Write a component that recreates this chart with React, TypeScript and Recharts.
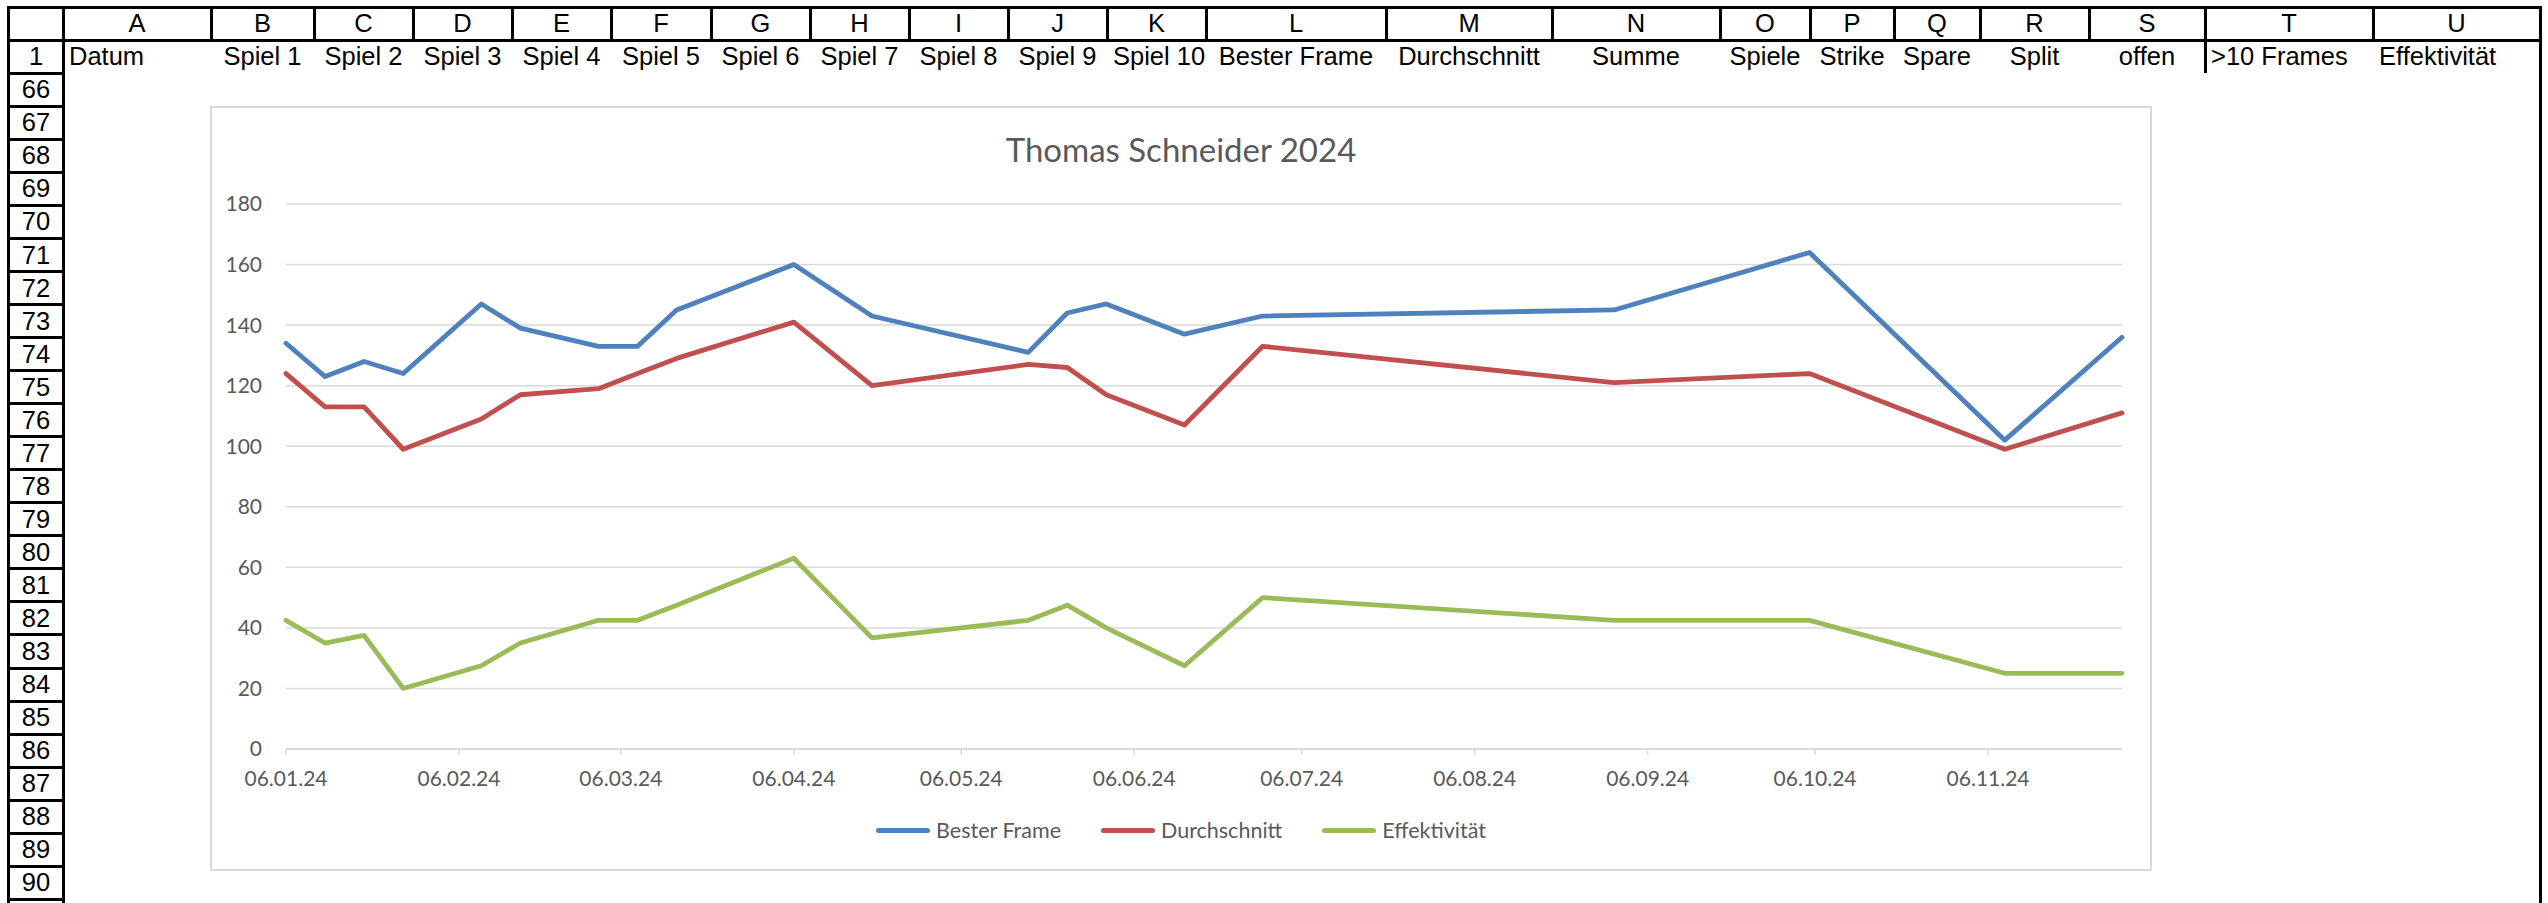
import React from 'react';
import { LineChart, Line, XAxis, YAxis, CartesianGrid, Legend } from 'recharts';

// Spieltage 2024 (Samstage)
const dates = [
  '2024-01-06', '2024-01-13', '2024-01-20', '2024-01-27', '2024-02-10',
  '2024-02-17', '2024-03-02', '2024-03-09', '2024-03-16', '2024-04-06',
  '2024-04-20', '2024-05-18', '2024-05-25', '2024-06-01', '2024-06-15',
  '2024-06-29', '2024-08-31', '2024-10-05', '2024-11-09', '2024-11-30',
];
const besterFrame = [134, 123, 128, 124, 147, 139, 133, 133, 145, 160, 143, 131, 144, 147, 137, 143, 145, 164, 102, 136];
const durchschnitt = [124, 113, 113, 99, 109, 117, 119, 124, 129, 141, 120, 127, 126, 117, 107, 133, 121, 124, 99, 111];
const effektivitaet = [42.5, 35, 37.5, 20, 27.5, 35, 42.5, 42.5, 47.5, 63, 36.7, 42.5, 47.5, 40, 27.5, 50, 42.5, 42.5, 25, 25];

const xTickLabels = [
  '06.01.24', '06.02.24', '06.03.24', '06.04.24', '06.05.24', '06.06.24',
  '06.07.24', '06.08.24', '06.09.24', '06.10.24', '06.11.24',
];
const yTicks = [0, 20, 40, 60, 80, 100, 120, 140, 160, 180];

// Tabellenrahmen
const columnLetters = ['A', 'B', 'C', 'D', 'E', 'F', 'G', 'H', 'I', 'J', 'K', 'L', 'M', 'N', 'O', 'P', 'Q', 'R', 'S', 'T', 'U'];
const headerTexts = [
  'Datum', 'Spiel 1', 'Spiel 2', 'Spiel 3', 'Spiel 4', 'Spiel 5', 'Spiel 6', 'Spiel 7', 'Spiel 8', 'Spiel 9', 'Spiel 10',
  'Bester Frame', 'Durchschnitt', 'Summe', 'Spiele', 'Strike', 'Spare', 'Split', 'offen', '>10 Frames', 'Effektivität',
];
const headerAlign = ['left', 'center', 'center', 'center', 'center', 'center', 'center', 'center', 'center', 'center', 'center',
  'center', 'center', 'center', 'center', 'center', 'center', 'center', 'center', 'left', 'left'];
const rowNumbers = [1, 66, 67, 68, 69, 70, 71, 72, 73, 74, 75, 76, 77, 78, 79, 80, 81, 82, 83, 84, 85, 86, 87, 88, 89, 90];
const colEdges = [63, 211, 314, 413, 512, 611, 711, 810, 909, 1008, 1107, 1206, 1386, 1552, 1720, 1810, 1894, 1980, 2089, 2205, 2373, 2540];

const toTime = (iso: string) => Date.parse(iso + 'T00:00:00Z');
const labelToTime = (s: string) => {
  const [d, m, y] = s.split('.').map(Number);
  return Date.UTC(2000 + y, m - 1, d);
};
const formatDate = (t: number) => {
  const d = new Date(t);
  const p = (n: number) => String(n).padStart(2, '0');
  return `${p(d.getUTCDate())}.${p(d.getUTCMonth() + 1)}.${String(d.getUTCFullYear()).slice(2)}`;
};

const data = dates.map((d, i) => ({
  t: toTime(d),
  bester: besterFrame[i],
  durch: durchschnitt[i],
  eff: effektivitaet[i],
}));
const xTicks = xTickLabels.map(labelToTime);

const FONT = 'Lato, "Open Sans", sans-serif';
const SHEET_FONT = '"Liberation Sans", Arial, sans-serif';
const axisText = { fontFamily: FONT, fontSize: 21, fill: '#595959' };

const ROW_H = 33.04;
const rowTop = (i: number) => (i === 0 ? 40 : 73.3 + (i - 1) * ROW_H);
const rowHeight = (i: number) => (i === 0 ? 33.3 : ROW_H);

function Line2({ x, y, w, h }: { x: number; y: number; w: number; h: number }) {
  return <div style={{ position: 'absolute', left: x, top: y, width: w, height: h, background: '#000' }} />;
}

function LegendContent(props: any) {
  const items = props.payload || [];
  return (
    <div style={{ display: 'flex', justifyContent: 'center', alignItems: 'center', height: 30 }}>
      {items.map((it: any, i: number) => (
        <div key={i} style={{ display: 'flex', alignItems: 'center', marginLeft: i === 0 ? 0 : 40 }}>
          <div style={{ width: 54, height: 5, borderRadius: 3, background: it.color, marginRight: 6 }} />
          <span style={{ fontFamily: FONT, fontSize: 21.5, color: '#595959' }}>{it.value}</span>
        </div>
      ))}
    </div>
  );
}

function Sheet() {
  const bottom = 903;
  const parts: React.ReactNode[] = [];
  // Außenrahmen
  parts.push(<Line2 key="top" x={7} y={6} w={2534} h={2.5} />);
  parts.push(<Line2 key="left" x={7} y={6} w={3} h={bottom - 6} />);
  parts.push(<Line2 key="right" x={2539} y={6} w={2.5} h={bottom - 6} />);
  parts.push(<Line2 key="hdrb" x={7} y={38.5} w={2534} h={3} />);
  parts.push(<Line2 key="rhr" x={61.5} y={6} w={3} h={bottom - 6} />);
  // Spaltenköpfe
  colEdges.slice(1, -1).forEach((x, i) => parts.push(<Line2 key={'cv' + i} x={x - 1.5} y={6} w={3} h={34} />));
  columnLetters.forEach((l, i) => {
    const x0 = colEdges[i];
    const x1 = colEdges[i + 1];
    parts.push(
      <div key={'cl' + l} style={{ position: 'absolute', left: x0, top: 7, width: x1 - x0, height: 33, lineHeight: '33px', textAlign: 'center', fontFamily: SHEET_FONT, fontSize: 25.5 }}>
        {l}
      </div>,
    );
  });
  // Zeilenköpfe
  rowNumbers.forEach((n, i) => {
    const y = rowTop(i);
    parts.push(<Line2 key={'rh' + i} x={7} y={y + rowHeight(i) - 1.5} w={57} h={3} />);
    parts.push(
      <div key={'rn' + n} style={{ position: 'absolute', left: 9, top: y, width: 54, height: rowHeight(i), lineHeight: rowHeight(i) + 'px', textAlign: 'center', fontFamily: SHEET_FONT, fontSize: 25.5 }}>
        {n}
      </div>,
    );
  });
  // Zeile 1
  headerTexts.forEach((t, i) => {
    const x0 = colEdges[i];
    const x1 = colEdges[i + 1];
    parts.push(
      <div key={'h' + i} style={{ position: 'absolute', left: x0 + 6, top: 40, width: x1 - x0 - 12, height: 33, lineHeight: '33px', textAlign: headerAlign[i] as any, fontFamily: SHEET_FONT, fontSize: 25.5, whiteSpace: 'nowrap' }}>
        {t}
      </div>,
    );
  });
  parts.push(<Line2 key="st" x={2204} y={40} w={3} h={33} />);
  return <>{parts}</>;
}

export default function App() {
  const W = 1942;
  const H = 765;
  return (
    <div style={{ position: 'absolute', left: 0, top: 0, width: 2548, height: 903, background: '#fff', overflow: 'hidden' }}>
      <Sheet />
      <div style={{ position: 'absolute', left: 210, top: 106, width: W, height: H, background: '#fff' }}>
        <div style={{ position: 'absolute', left: 0, top: 0, width: W, height: H, boxSizing: 'border-box', border: '2px solid #d9d9d9' }} />
        <div style={{ position: 'absolute', left: 0, top: 23, width: W, height: 40, lineHeight: '40px', textAlign: 'center', fontFamily: FONT, fontSize: 33, color: '#595959' }}>
          Thomas Schneider 2024
        </div>
        <div style={{ position: 'absolute', left: 0, top: 0 }}>
          <LineChart width={W} height={H} data={data} margin={{ top: 98, right: 30, bottom: 0, left: 16 }}>
            <CartesianGrid vertical={false} stroke="#d9d9d9" strokeWidth={1.5} />
            <XAxis
              dataKey="t"
              type="number"
              domain={[data[0].t, data[data.length - 1].t]}
              ticks={xTicks}
              interval={0}
              tickFormatter={formatDate}
              height={122}
              tick={axisText}
              tickSize={6}
              tickMargin={16}
              axisLine={{ stroke: '#d9d9d9', strokeWidth: 1.5 }}
              tickLine={{ stroke: '#d9d9d9', strokeWidth: 1.5 }}
            />
            <YAxis
              domain={[0, 180]}
              ticks={yTicks}
              interval={0}
              width={60}
              axisLine={false}
              tickLine={false}
              tickSize={0}
              tickMargin={24}
              tick={axisText}
            />
            <Legend
              layout="horizontal"
              verticalAlign="middle"
              align="center"
              content={<LegendContent />}
              wrapperStyle={{ top: 709, left: 0, width: W, height: 30 }}
            />
            <Line name="Bester Frame" dataKey="bester" stroke="#4F81BD" strokeWidth={4.8} dot={false} strokeLinecap="round" strokeLinejoin="round" isAnimationActive={false} />
            <Line name="Durchschnitt" dataKey="durch" stroke="#C0504D" strokeWidth={4.8} dot={false} strokeLinecap="round" strokeLinejoin="round" isAnimationActive={false} />
            <Line name="Effektivität" dataKey="eff" stroke="#9BBB59" strokeWidth={4.8} dot={false} strokeLinecap="round" strokeLinejoin="round" isAnimationActive={false} />
          </LineChart>
        </div>
      </div>
    </div>
  );
}
